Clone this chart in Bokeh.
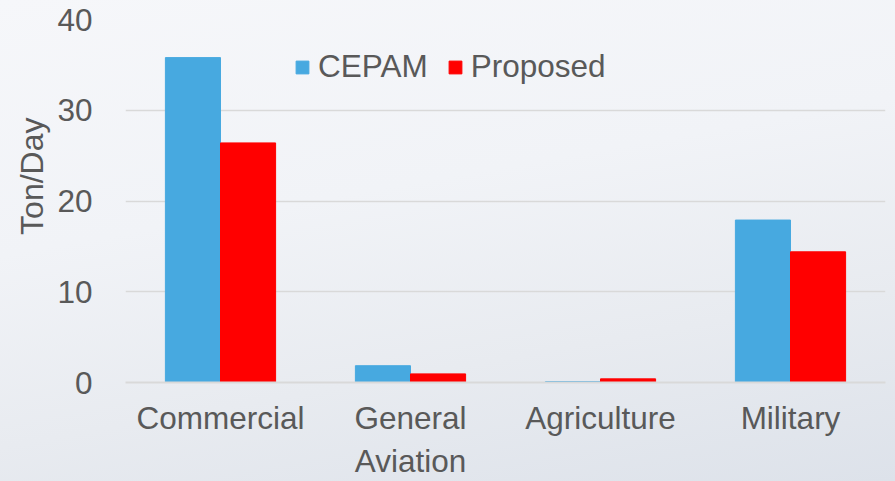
from bokeh.plotting import figure
from bokeh.models import (ColumnDataSource, FactorRange, Range1d, Legend, LegendItem,
                          FixedTicker, Title, CustomJSTickFormatter)
from bokeh.transform import dodge
from bokeh.embed import file_html
from bokeh.resources import INLINE

categories = ["Commercial", "General Aviation", "Agriculture", "Military"]
category_labels = ["Commercial", "General\nAviation", "Agriculture", "Military"]
cepam = [35.8, 1.85, 0.1, 17.9]
proposed = [26.4, 0.95, 0.4, 14.4]
y_ticks = [0, 10, 20, 30, 40]
series_names = ["CEPAM", "Proposed"]
y_title = "Ton/Day"

TEXT = "#595959"
FONT = "Liberation Sans"
FS = "31.5px"

src = ColumnDataSource(dict(cat=categories, cepam=cepam, proposed=proposed))

p = figure(width=895, height=481, x_range=FactorRange(*categories, range_padding=0),
           y_range=Range1d(0, 40), output_backend="svg", toolbar_location=None,
           min_border_left=125, min_border_right=10, min_border_top=19, min_border_bottom=96)
p.border_fill_color = None
p.background_fill_color = None
p.outline_line_color = None
p.styles = {"background": "linear-gradient(170deg, #f6f7fa 0%, #f1f3f7 40%, #e8ebf0 70%, #dde2ea 100%)"}

r1 = p.vbar(x=dodge("cat", -0.145, range=p.x_range), top="cepam", width=0.29, source=src,
            fill_color="#47a9e0", line_color="#47a9e0")
r2 = p.vbar(x=dodge("cat", 0.145, range=p.x_range), top="proposed", width=0.29, source=src,
            fill_color="#ff0000", line_color="#ff0000")

p.xgrid.grid_line_color = None
p.ygrid.grid_line_color = "#d9d9d9"
p.ygrid.grid_line_width = 1.5
p.yaxis.ticker = FixedTicker(ticks=y_ticks)

for ax in (p.xaxis[0], p.yaxis[0]):
    ax.major_tick_line_color = None
    ax.minor_tick_line_color = None
    ax.major_label_text_font = FONT
    ax.major_label_text_font_size = FS
    ax.major_label_text_color = TEXT
p.yaxis.axis_line_color = None
p.yaxis.major_label_standoff = 27
xa = p.xaxis[0]
xa.axis_line_color = "#d9d9d9"
xa.axis_line_width = 2
xa.major_label_standoff = 11
xa.formatter = CustomJSTickFormatter(args=dict(cats=categories, labels=category_labels),
                                     code="const i = cats.indexOf(tick); return i >= 0 ? labels[i] : tick;")

p.add_layout(Title(text=y_title, align="right", offset=98, text_font=FONT,
                   text_font_size="32px", text_color=TEXT, text_font_style="normal"), "left")

legend = Legend(items=[LegendItem(label=series_names[0], renderers=[r1]),
                       LegendItem(label=series_names[1], renderers=[r2])],
                orientation="horizontal", location=(169, 297), padding=0, margin=0,
                glyph_width=16, glyph_height=16, label_standoff=8, spacing=19,
                label_text_font=FONT, label_text_font_size=FS, label_text_color=TEXT,
                background_fill_alpha=0, border_line_color=None)
p.add_layout(legend, "center")

open("out.html", "w").write(file_html(p, INLINE))
